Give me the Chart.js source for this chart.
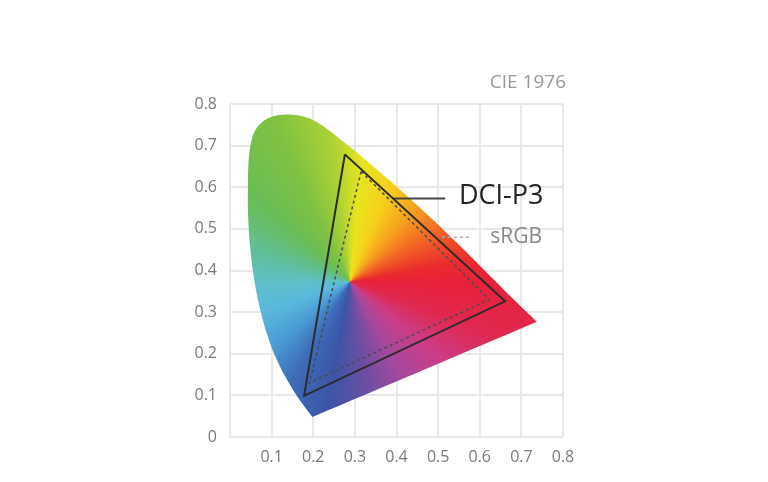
<!DOCTYPE html>
<html>
<head>
<meta charset="utf-8">
<script src="https://cdn.jsdelivr.net/npm/chart.js@4/dist/chart.umd.min.js"></script>
<style>
html,body{margin:0;padding:0;background:#fff;}
canvas{display:block;}
</style>
</head>
<body>
<canvas id="c" width="768" height="482"></canvas>
<script>
// Spectral locus outline (u', v'), clockwise from the blue corner.
// Corner points are repeated so that the smoothed outline keeps sharp corners.
const locusU = [0.198, 0.198, 0.160, 0.130, 0.106, 0.088, 0.074, 0.063, 0.055, 0.049, 0.045, 0.043, 0.043, 0.044, 0.048, 0.058, 0.072, 0.091, 0.115, 0.142, 0.168, 0.192, 0.216, 0.240, 0.264, 0.288, 0.337, 0.385, 0.433, 0.481, 0.529, 0.577, 0.625, 0.673, 0.737, 0.737, 0.198, 0.198];
const locusV = [0.048, 0.048, 0.100, 0.150, 0.200, 0.250, 0.300, 0.350, 0.400, 0.450, 0.500, 0.550, 0.600, 0.650, 0.695, 0.732, 0.752, 0.766, 0.773, 0.775, 0.772, 0.765, 0.752, 0.735, 0.716, 0.697, 0.656, 0.615, 0.572, 0.528, 0.482, 0.435, 0.387, 0.339, 0.277, 0.277, 0.048, 0.048];
// Gamut triangles (green, red, blue)
const p3U = [0.276, 0.661, 0.178, 0.276];
const p3V = [0.679, 0.326, 0.099, 0.679];
const srgbU = [0.315, 0.623, 0.191, 0.315];
const srgbV = [0.638, 0.330, 0.130, 0.638];
// Gradient centre (white point)
const whiteU = 0.288, whiteV = 0.373;
// Leader lines for labels
const p3LeaderU = [0.392, 0.517], p3LeaderV = [0.573, 0.573];
const srgbLeaderU = [0.509, 0.581], srgbLeaderV = [0.480, 0.480];
// Axis ticks
const tickValues = [0, 0.1, 0.2, 0.3, 0.4, 0.5, 0.6, 0.7, 0.8];
const xTickLabels = ['', '0.1', '0.2', '0.3', '0.4', '0.5', '0.6', '0.7', '0.8'];
const yTickLabels = ['0', '0.1', '0.2', '0.3', '0.4', '0.5', '0.6', '0.7', '0.8'];
// Labels
const labels = { p3: 'DCI-P3', srgb: 'sRGB', title: 'CIE 1976' };
const p3LabelPos = { u: 0.550, v: 0.578 };
const srgbLabelPos = { u: 0.625, v: 0.481 };

function pts(us, vs) { return us.map((u, i) => ({ x: u, y: vs[i] })); }

const hueStops = [
  [0, '#e8213a'], [20, '#e0284f'], [40, '#cc3c86'], [60, '#a8489d'], [80, '#6e4ea3'],
  [100, '#3c55a7'], [120, '#3d6cb8'], [140, '#4a9dd5'], [160, '#59b8dc'], [180, '#5fc0c8'],
  [200, '#60bf92'], [222, '#69bd56'], [245, '#80c241'], [262, '#a9d136'], [276, '#e8e41f'],
  [292, '#f6d11a'], [312, '#f69f1e'], [332, '#f16024'], [350, '#ea2a2d'], [360, '#e8213a']
];

function locusFill(ctx) {
  const chart = ctx.chart;
  if (!chart.chartArea) return 'rgba(0,0,0,0)';
  const cx = chart.scales.x.getPixelForValue(whiteU);
  const cy = chart.scales.y.getPixelForValue(whiteV);
  const g = chart.ctx.createConicGradient(0, cx, cy);
  hueStops.forEach(s => g.addColorStop(s[0] / 360, s[1]));
  return g;
}

const textPlugin = {
  id: 'texts',
  afterDatasetsDraw(chart) {
    const c = chart.ctx, xs = chart.scales.x, ys = chart.scales.y, a = chart.chartArea;
    c.save();
    c.textBaseline = 'middle';
    c.textAlign = 'left';
    c.fillStyle = '#222';
    c.font = '27px "Open Sans"';
    c.fillText(labels.p3, xs.getPixelForValue(p3LabelPos.u), ys.getPixelForValue(p3LabelPos.v));
    c.fillStyle = '#888';
    c.font = '21px "Open Sans"';
    c.fillText(labels.srgb, xs.getPixelForValue(srgbLabelPos.u), ys.getPixelForValue(srgbLabelPos.v));
    c.textAlign = 'right';
    c.fillStyle = '#999';
    c.font = '19px "Open Sans"';
    c.fillText(labels.title, a.right + 3, a.top - 21);
    c.restore();
  }
};

new Chart(document.getElementById('c'), {
  type: 'line',
  data: {
    datasets: [
      { order: 10, data: pts(locusU, locusV), fill: 'shape', backgroundColor: locusFill, borderColor: 'rgba(0,0,0,0)', borderWidth: 0, pointRadius: 0, tension: 0.3 },
      { order: 2, data: pts(srgbU, srgbV), fill: false, borderColor: '#4a4a4a', borderWidth: 1.5, borderDash: [3, 3], pointRadius: 0, tension: 0 },
      { order: 1, data: pts(p3U, p3V), fill: false, borderColor: '#2b2b2b', borderWidth: 2, pointRadius: 0, tension: 0, borderJoinStyle: 'miter' },
      { order: 1, data: pts(p3LeaderU, p3LeaderV), fill: false, borderColor: '#444', borderWidth: 2, pointRadius: 0 },
      { order: 1, data: pts(srgbLeaderU, srgbLeaderV), fill: false, borderColor: '#aaa', borderWidth: 1.5, borderDash: [3, 3], pointRadius: 0 }
    ]
  },
  options: {
    responsive: false,
    devicePixelRatio: 1,
    animation: false,
    layout: { padding: { left: 0, right: 205, top: 104, bottom: 0 } },
    plugins: { legend: { display: false }, tooltip: { enabled: false } },
    scales: {
      x: {
        type: 'linear', min: 0, max: 0.8,
        afterBuildTicks: axis => { axis.ticks = tickValues.map(v => ({ value: v })); },
        afterFit: axis => { axis.height = 45; },
        grid: { color: '#e8e8e8', lineWidth: 2, drawTicks: false },
        border: { display: false },
        ticks: { padding: 11, color: '#7a7a7a', font: { family: 'Open Sans', size: 16 }, maxRotation: 0, autoSkip: false,
          callback: (v, i) => xTickLabels[i] }
      },
      y: {
        type: 'linear', min: 0, max: 0.8,
        afterBuildTicks: axis => { axis.ticks = tickValues.map(v => ({ value: v })); },
        afterFit: axis => { axis.width = 230; },
        grid: { color: '#e8e8e8', lineWidth: 2, drawTicks: false },
        border: { display: false },
        ticks: { padding: 13, color: '#7a7a7a', font: { family: 'Open Sans', size: 16 }, autoSkip: false,
          callback: (v, i) => yTickLabels[i] }
      }
    }
  },
  plugins: [textPlugin]
});
</script>
</body>
</html>
